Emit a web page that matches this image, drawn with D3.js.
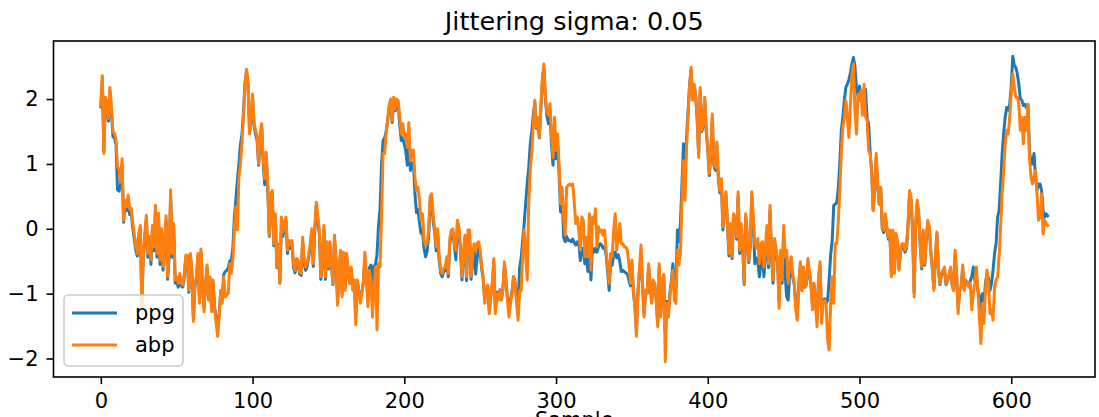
<!DOCTYPE html>
<html>
<head>
<meta charset="utf-8">
<script src="https://cdn.jsdelivr.net/npm/d3@7"></script>
<style>
  body { margin: 0; background: #fff; }
  svg { display: block; font-family: "DejaVu Sans", sans-serif; }
</style>
</head>
<body>
<svg id="chart" width="1099" height="417"></svg>
<script>
// Signal values per sample (jittered)
const ppg = [
  1.88, 2.30, 1.20, 1.98, 1.90, 1.66, 2.12, 1.80, 1.42, 1.40, 1.30, 0.60, 0.58, 0.68, 0.98, 0.10, 0.38, 0.28, 0.46, 0.22,
  0.26, 0.02, -0.15, -0.33, -0.42, -0.14, -0.02, -1.10, -0.45, -0.12, 0.14, -0.44, -0.18, -0.55, -0.02, -0.34, 0.28, -0.44, 0.18, -0.55,
  -0.06, -0.64, -0.24, 0.12, -0.78, -0.44, 0.50, -0.44, 0.02, -0.84, -0.80, -0.90, -0.75, -0.88, -0.90, -0.74, -0.46, -0.46, -0.98,
  -0.42, -0.68, -1.38, -0.88, -0.78, -0.42, -1.10, -0.36, -0.88, -1.22, -0.88, -0.60, -1.06, -0.78, -1.22, -0.84, -1.20, -1.40, -1.55, -1.30, -0.98, -1.10,
  -0.70, -0.66, -0.64, -0.60, -0.50, -0.48, -0.30, 0.18, 0.45, 0.75, 1.00, 1.30, 1.45, 1.80, 2.25, 2.42,
  2.22, 1.50, 1.66, 2.00, 1.58, 1.46, 1.36, 0.98, 1.40, 1.55, 1.02, 0.68, 1.10, 0.62, -0.12, 0.46, 0.52, -0.26, 0.16, -0.60, -0.28, -0.84, 0.10, -0.12, 0.02,
  0.12, -0.38, -0.24, -0.30, -0.24, -0.60, -0.68, -0.52, -0.54, -0.70,
  -0.72, -0.20, -0.54, -0.64, -0.58, -0.44, -0.28, -0.06, -0.58, -0.03,
  0.34, 0.12, -0.08, -0.78, -0.48, -0.02, -0.78, -0.26, -0.62, -0.26,
  -0.58, -0.86, -0.16, -0.50, -1.10, -0.68, -0.38, -1.00, -0.42, -0.92,
  -0.44, -0.66, -0.84, -0.62, -0.92, -0.80, -1.36, -0.82, -0.96, -1.08,
  -0.98, -0.82, -0.48, -0.72, -1.12, -0.60, -0.56, -1.10, -0.58, -0.55,
  -0.40, 0.05,
  0.30, 1.00, 1.36, 1.40, 1.50, 1.66, 1.88, 1.98, 1.64, 1.98,
  1.82, 1.96, 1.92, 1.60, 1.36, 1.40, 1.30, 1.20, 0.98, 1.30,
  0.90, 1.02, 1.00, 0.55, 0.25, 0.30, 0.10, -0.07, -0.05, -0.30,
  -0.43, -0.36, -0.12, 0.40, 0.44, 0.12, -0.05, -0.34, -0.10, -0.50,
  -0.69, -0.74, -0.66, -0.64, -0.50, -0.74, -0.22, -0.10, -0.06, -0.26,
  -0.48, 0.06, -0.04, -0.34, -0.79, -0.40, -0.18, -0.80, -0.10, -0.08,
  -0.78, -0.50, -0.30,
  -0.70, -0.45, -0.28, -0.38, -0.62, -0.78, -1.10, -0.92, -0.90, -1.25,
  -1.02, -0.86, -0.52, -1.24, -0.98, -1.06, -0.94, -1.06, -0.92, -0.56,
  -0.80, -1.06, -1.28, -1.10, -0.96, -0.74, -0.82, -1.08, -1.20, -0.60,
  -0.46, -0.18, 0.08, 0.40, 0.70, 0.95, 1.30, 1.50, 1.75, 1.95,
  1.55, 1.68, 1.40, 1.85, 2.28, 2.48, 1.98, 1.74, 1.62, 1.80,
  1.30, 0.98, 1.55, 1.08, 1.30, 0.85, 0.26, 0.50, -0.13, -0.20,
  -0.12, -0.18,
  -0.18, -0.20, -0.16, -0.22, -0.25, -0.20, -0.22, -0.49, -0.30, -0.35,
  -0.54, -0.40, -0.66, -0.20, -0.79, -0.30, -0.36, -0.30, -0.36, -0.28,
  -0.23, -0.25, -0.30, -0.28, -0.40, -0.66, -0.95, -0.52, -0.56, -0.40,
  -0.36, -0.45, -0.40, -0.50, -0.66, -0.64, -0.66, -0.68, -0.70, -0.79,
  -0.88, -0.60, -0.98, -1.20, -1.60, -0.98, -0.66, -0.40, -0.88, -1.32,
  -0.98, -1.00, -0.60, -0.86, -1.12, -0.82, -0.86, -1.08, -1.45, -0.60,
  -1.30, -0.82, -0.72,
  -1.60, -1.12, -1.30, -1.00, -0.80, -0.54, -0.95, -0.90, -0.02, -0.20,
  0.10, 0.70, 1.31, 0.80, 1.40, 1.80, 2.22, 2.45, 2.00, 2.20,
  2.05, 1.70, 1.15, 2.12, 1.50, 1.58, 1.98, 1.50, 1.22, 0.82,
  1.15, 1.70, 0.98, 0.90, 1.28, 0.76, 0.55, 0.70, -0.02, 0.34,
  0.52, 0.02, -0.42, 0.02, -0.46, 0.18, 0.12, -0.16, 0.50, -0.38,
  0.02, -0.28, -0.86, 0.18, -0.12, -0.52, -0.28, 0.50, 0.10, -0.54,
  -0.45, -0.50, -0.74,
  -0.54, -0.40, -0.74, -0.40, -0.05, -0.60, 0.28, -0.40, -0.84, -0.22,
  -0.36, -0.52, -1.10, -0.40, -0.84, -0.10, -0.70, -1.05, -1.10, -0.70,
  -0.55, -0.74, -0.86, -1.15, -1.30, -0.86, -0.58, -0.95, -0.64, -0.90,
  -0.86, -0.55, -0.70, -0.86, -1.18, -0.86, -1.12, -1.40, -0.78, -0.58,
  -1.30, -1.12, -1.08, -1.15, -1.10, -0.78, -0.40, -0.18, 0.36, 0.38,
  0.40, 0.62, 1.00, 1.51, 1.72, 1.98, 2.18, 2.23, 2.30, 2.40,
  2.55, 2.64,
  2.50, 2.15, 2.05, 2.20, 2.05, 2.08, 1.78, 2.15, 1.70, 1.62,
  1.18, 0.88, 0.30, 0.60, 1.10, 0.66, 0.38, 0.62, 0.00, -0.06,
  0.18, 0.00, -0.16, -0.06, -0.70, -0.06, -0.66, -0.10, -0.22, -0.62,
  -0.36, -0.26, -0.26, -0.36, -0.30, 0.06, 0.52, 0.44, -0.06, -0.98,
  0.04, 0.38, 0.22, -0.26, -0.62, -0.06, -0.56, -0.16, 0.10, 0.00,
  -0.36, -0.62, -0.92, -0.46, -0.08, -0.62, -0.86, -0.72, -0.66, -0.62,
  -0.86, -0.80, -0.72,
  -0.62, -0.86, -0.95, -0.40, -0.72, -1.22, -0.95, -0.90, -0.60, -0.92,
  -0.80, -0.85, -0.88, -0.80, -0.74, -0.59, -0.80, -0.70, -0.95, -1.05,
  -1.30, -1.00, -1.15, -0.84, -0.70, -0.76, -0.95, -0.84, -0.64, -0.38,
  -0.23, 0.18, 0.28, 0.69, 1.16, 1.46, 1.72, 1.87, 1.83, 1.92,
  2.20, 2.66, 2.52, 2.49, 2.39, 2.23, 2.00, 1.98, 1.90, 1.92,
  1.87, 1.92, 1.21, 1.00, 1.00, 1.16, 0.80, 0.59, 0.69, 0.69,
  0.59, 0.28, 0.18, 0.23, 0.20
];

const abp = [
  1.90, 2.36, 1.16, 2.03, 1.95, 1.70, 2.18, 1.87, 1.49, 1.47, 1.38, 0.95, 0.92, 0.72, 1.08, 0.13, 0.44, 0.34, 0.52, 0.30,
  0.32, 0.10, -0.07, -0.25, -0.38, -0.07, 0.05, -1.20, -0.38, -0.07, 0.21, -0.38, -0.12, -0.48, 0.05, -0.28, 0.36, -0.38, 0.24, -0.48,
  0.00, -0.58, -0.18, 0.20, -0.74, -0.38, 0.60, -0.38, 0.08, -0.79, -0.74, -0.84, -0.69, -0.84, -0.87, -0.69, -0.41, -0.41, -0.95,
  -0.38, -0.64, -1.43, -0.84, -0.74, -0.38, -1.15, -0.31, -0.84, -1.28, -0.84, -0.56, -1.10, -0.74, -1.28, -0.79, -1.25, -1.45, -1.66, -1.36,
  -0.95, -1.15, -0.74, -1.05, -1.02, -1.00, -0.54, -0.69, -0.48, -0.02, 0.34, -0.02, 0.80, 1.00, 1.30, 1.72, 2.20, 2.46,
  2.28, 1.46, 1.72, 2.08, 1.62, 1.52, 1.41, 1.00, 1.46, 1.62, 1.10, 0.77, 1.18, 0.69, -0.10, 0.54, 0.59, -0.23, 0.23, -0.59, -0.23, -0.84, 0.18, -0.05, 0.10,
  0.18, -0.33, -0.18, -0.25, -0.18, -0.54, -0.64, -0.46, -0.48, -0.66,
  -0.69, -0.13, -0.48, -0.59, -0.54, -0.38, -0.23, 0.00, -0.54, 0.03,
  0.41, 0.20, -0.02, -0.74, -0.43, 0.05, -0.74, -0.20, -0.59, -0.20,
  -0.54, -0.84, -0.10, -0.45, -1.18, -0.64, -0.33, -1.05, -0.36, -0.95,
  -0.38, -0.62, -0.84, -0.59, -0.95, -0.79, -1.48, -0.79, -0.98, -1.15,
  -1.00, -0.84, -0.36, -0.70, -1.20, -0.64, -0.79, -1.36, -0.95, -0.59,
  -1.56, -0.54,
  -0.59, 0.18, 1.16, 1.16, 1.46, 1.67, 1.90, 2.00, 1.67, 2.03,
  1.85, 2.00, 1.97, 1.72, 1.46, 1.62, 1.41, 1.46, 1.26, 1.64,
  1.05, 1.21, 1.21, 0.80, 0.59, 0.64, 0.44, 0.13, 0.23, -0.18,
  -0.25, -0.23, -0.02, 0.49, 0.54, 0.20, 0.03, -0.28, 0.00, -0.43,
  -0.64, -0.69, -0.61, -0.59, -0.43, -0.69, -0.15, -0.02, 0.00, -0.23,
  -0.33, 0.13, 0.03, -0.28, -0.74, -0.33, -0.10, -0.74, -0.02, -0.02,
  -0.74, -0.43, -0.23,
  -0.33, -0.23, -0.20, -0.33, -0.59, -0.74, -1.15, -0.90, -0.87, -1.31,
  -1.05, -0.84, -0.46, -1.31, -1.00, -1.10, -0.95, -1.10, -0.95, -0.51,
  -0.79, -1.10, -1.36, -1.15, -1.00, -0.74, -0.84, -1.15, -1.41, -0.95,
  -0.95, -0.43, -0.02, -0.38, -0.79, 0.40, 0.90, 1.16, 1.60, 1.98,
  1.57, 1.72, 1.41, 1.90, 2.34, 2.54, 2.03, 1.80, 1.75, 1.93,
  1.46, 1.10, 1.72, 1.21, 1.46, 1.00, 0.39, 0.64, 0.18, -0.10,
  0.64, 0.67,
  0.69, 0.67, 0.69, 0.40, 0.08, 0.18, -0.02, -0.33, 0.18, 0.13,
  -0.43, -0.13, -0.43, 0.23, -0.64, 0.18, 0.08, 0.31, -0.28, 0.03,
  -0.05, -0.02, -0.10, -0.02, -0.33, -0.59, -0.84, -0.38, -0.43, -0.02,
  0.23, -0.33, -0.13, 0.08, -0.23, -0.23, -0.28, -0.28, -0.33, -0.54,
  -0.84, -0.48, -0.95, -1.20, -1.66, -0.95, -0.59, -0.25, -0.84, -1.36,
  -0.95, -1.00, -0.54, -0.84, -1.15, -0.79, -0.84, -1.10, -1.51, -0.54,
  -1.36, -0.80, -0.70,
  -2.05, -1.15, -1.36, -1.05, -0.85, -0.64, -1.10, -1.15, -0.33, -0.56,
  -0.38, 0.44, 1.05, 0.44, 1.26, 1.72, 2.20, 2.49, 1.98, 2.23,
  2.08, 1.72, 1.10, 2.18, 1.52, 1.62, 2.03, 1.52, 1.26, 0.85,
  1.21, 1.77, 1.00, 0.95, 1.34, 0.80, 0.59, 0.77, 0.03, 0.39,
  0.57, 0.08, -0.38, 0.08, -0.43, 0.23, 0.18, -0.13, 0.57, -0.33,
  0.08, -0.23, -0.84, 0.23, -0.07, -0.49, -0.23, 0.57, 0.18, -0.23,
  -0.30, -0.15, -0.54,
  -0.23, -0.20, -0.59, -0.28, 0.05, -0.54, 0.36, -0.33, -0.79, -0.15,
  -0.30, -0.46, -1.23, -0.33, -0.79, 0.05, -0.43, -0.33, -0.84, -0.54,
  -0.43, -0.70, -0.84, -1.25, -1.41, -0.84, -0.51, -0.95, -0.59, -0.90,
  -0.84, -0.46, -0.65, -0.84, -1.25, -0.84, -1.15, -1.51, -0.74, -0.51,
  -1.46, -1.15, -1.10, -1.15, -1.72, -1.87, -1.15, -0.74, -1.15, -0.23,
  -0.23, 0.10, 0.59, 1.16, 1.57, 1.72, 1.98, 1.72, 1.41, 1.90,
  2.39, 2.54,
  1.82, 1.46, 2.08, 1.98, 2.13, 1.75, 2.23, 1.72, 1.67, 1.21,
  1.16, 0.90, 0.28, 0.64, 1.16, 0.69, 0.39, 0.64, 0.03, -0.02,
  0.23, 0.03, -0.13, -0.02, -0.74, -0.02, -0.69, -0.07, -0.18, -0.64,
  -0.33, -0.23, -0.23, -0.33, -0.28, 0.10, 0.59, 0.49, -0.02, -1.05,
  0.08, 0.44, 0.28, -0.23, -0.59, -0.02, -0.54, -0.13, 0.13, 0.03,
  -0.33, -0.59, -0.95, -0.43, -0.05, -0.59, -0.84, -0.69, -0.64, -0.59,
  -0.84, -0.79, -0.70,
  -0.59, -0.84, -0.95, -0.33, -0.70, -1.31, -0.95, -0.90, -0.56, -0.95,
  -0.79, -0.85, -0.90, -0.84, -1.25, -1.00, -0.84, -0.59, -0.95, -1.36,
  -1.77, -1.15, -1.46, -0.95, -0.64, -0.84, -1.31, -1.25, -1.41, -0.90,
  -0.79, -0.74, -0.43, 0.03, 0.54, 0.90, 1.31, 1.52, 1.46, 1.72,
  2.10, 2.39, 2.18, 2.03, 2.03, 1.92, 1.52, 1.72, 1.31, 1.72,
  1.52, 1.92, 1.10, 0.80, 0.69, 0.80, 0.90, 0.54, 0.13, 0.18,
  0.54, -0.08, 0.13, 0.08, 0.05
];

const seriesNames = ["ppg", "abp"];
const seriesColors = ["#1f77b4", "#ff7f0e"];
const xTicks = [0, 100, 200, 300, 400, 500, 600];
const yTicks = [-2, -1, 0, 1, 2];
const titleText = "Jittering sigma: 0.05";
const xLabel = "Sample";

const svg = d3.select("#chart");
const box = { left: 53.5, right: 1095, top: 41, bottom: 377 };

const n = Math.max(ppg.length, abp.length);
const x = d3.scaleLinear()
  .domain([-(n - 1) * 0.05, (n - 1) * 1.05])
  .range([box.left, box.right]);

const allVals = ppg.concat(abp);
const lo = d3.min(allVals), hi = d3.max(allVals), pad = (hi - lo) * 0.05;
const y = d3.scaleLinear()
  .domain([lo - pad, hi + pad])
  .range([box.bottom, box.top]);

svg.append("defs").append("clipPath").attr("id", "plot-clip")
  .append("rect")
  .attr("x", box.left).attr("y", box.top)
  .attr("width", box.right - box.left).attr("height", box.bottom - box.top);

// Lines
const line = d3.line().x((d, i) => x(i)).y(d => y(d));
const series = [ppg, abp];
svg.append("g").attr("clip-path", "url(#plot-clip)")
  .selectAll("path")
  .data(series)
  .join("path")
  .attr("d", d => line(d))
  .attr("fill", "none")
  .attr("stroke", (d, i) => seriesColors[i])
  .attr("stroke-width", 3)
  .attr("stroke-linejoin", "round")
  .attr("stroke-linecap", "square");

// Axes
const fmt = d => (d < 0 ? "\u2212" + Math.abs(d) : String(d));
const xAxis = svg.append("g")
  .attr("transform", `translate(0,${box.bottom})`)
  .call(d3.axisBottom(x).tickValues(xTicks).tickFormat(fmt).tickSize(7).tickPadding(9));
const yAxis = svg.append("g")
  .attr("transform", `translate(${box.left},0)`)
  .call(d3.axisLeft(y).tickValues(yTicks).tickFormat(fmt).tickSize(7).tickPadding(8));

[xAxis, yAxis].forEach(g => {
  g.select(".domain").remove();
  g.selectAll(".tick line").attr("stroke", "#000").attr("stroke-width", 1.6);
  g.selectAll(".tick text")
    .attr("fill", "#000")
    .style("font-size", "21px")
    .style("font-family", "'DejaVu Sans', sans-serif");
});

// Frame
svg.append("rect")
  .attr("x", box.left).attr("y", box.top)
  .attr("width", box.right - box.left).attr("height", box.bottom - box.top)
  .attr("fill", "none").attr("stroke", "#000").attr("stroke-width", 1.6);

// Title and axis label
svg.append("text")
  .attr("x", (box.left + box.right) / 2).attr("y", 30)
  .attr("text-anchor", "middle")
  .style("font-size", "25.5px")
  .text(titleText);

svg.append("text")
  .attr("x", (box.left + box.right) / 2).attr("y", 427)
  .attr("text-anchor", "middle")
  .style("font-size", "21px")
  .text(xLabel);

// Legend
const legend = svg.append("g").attr("transform", "translate(64,295)");
legend.append("rect")
  .attr("width", 119).attr("height", 71)
  .attr("rx", 4.5).attr("ry", 4.5)
  .attr("fill", "#fff").attr("fill-opacity", 0.8)
  .attr("stroke", "#cccccc").attr("stroke-width", 1.6);
const rows = legend.selectAll("g.row")
  .data(seriesNames)
  .join("g")
  .attr("class", "row")
  .attr("transform", (d, i) => `translate(0,${18 + i * 32})`);
rows.append("line")
  .attr("x1", 8).attr("x2", 53)
  .attr("stroke", (d, i) => seriesColors[i])
  .attr("stroke-width", 3);
rows.append("text")
  .attr("x", 71).attr("y", 7)
  .style("font-size", "21px")
  .text(d => d);
</script>
</body>
</html>
